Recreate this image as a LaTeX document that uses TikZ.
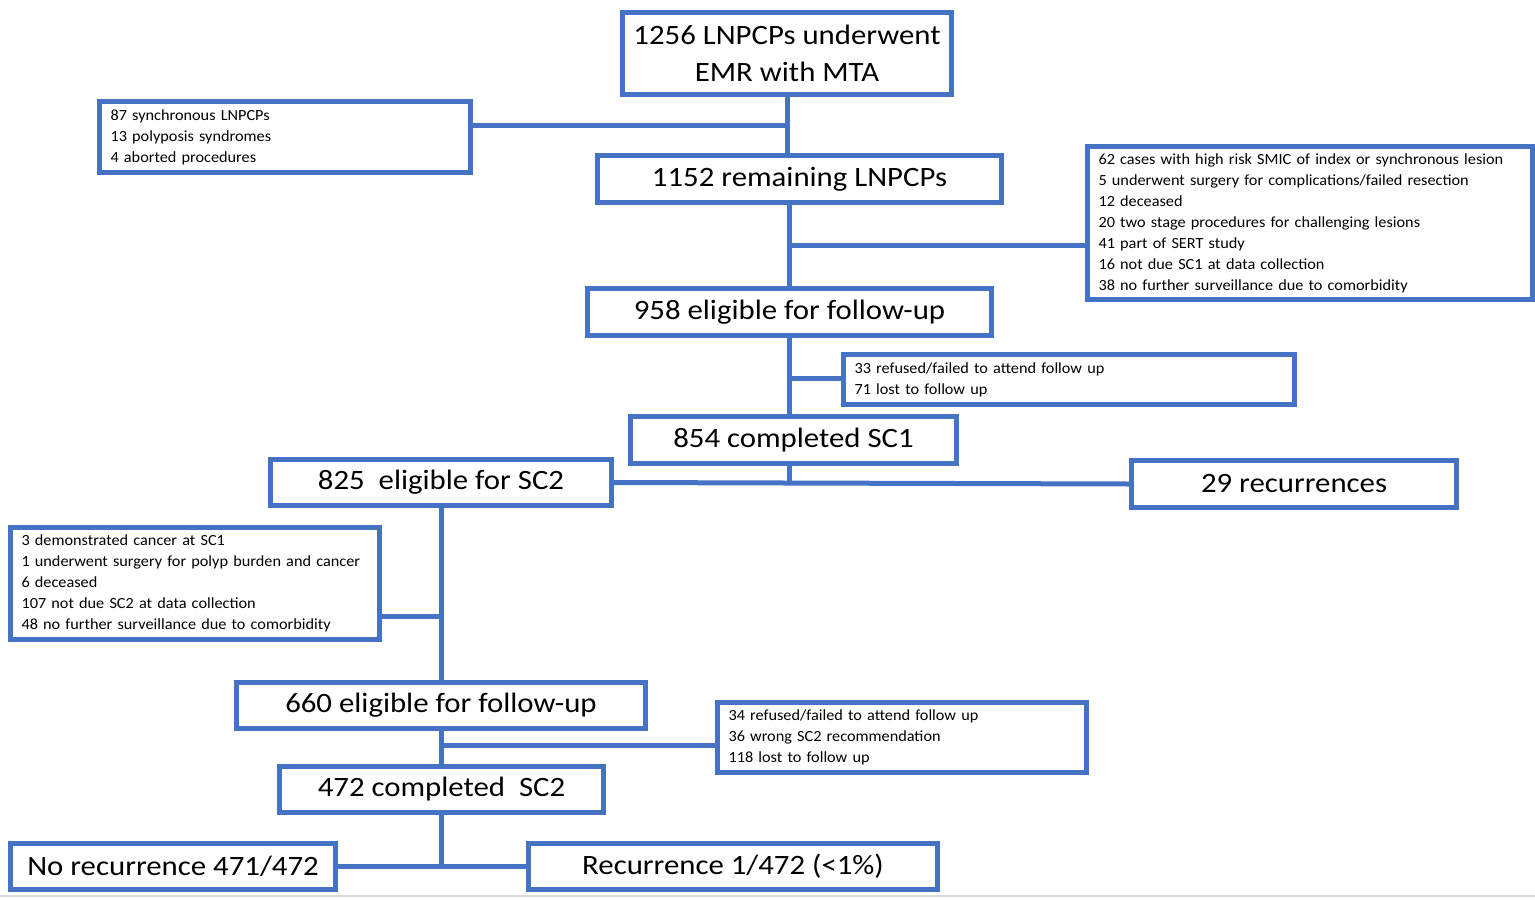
\documentclass[tikz,border=0pt]{standalone}
\usepackage{fontspec}
\setmainfont{Carlito}[FakeStretch=1.1]
\newfontfamily\notefont{Carlito}[FakeStretch=1.05]
\definecolor{boxblue}{HTML}{4472C4}
\tikzset{
  flow/.style={draw=boxblue, line width=5pt, rectangle, inner sep=0pt, align=center,
    font=\fontsize{28}{37}\selectfont},
  note/.style={draw=boxblue, line width=5pt, rectangle, inner xsep=11pt, inner ysep=0pt,
    align=left, font=\notefont\fontsize{15.5}{21}\selectfont},
  link/.style={draw=boxblue, line width=5pt}
}
\begin{document}
\begin{tikzpicture}[x=1pt, y=-1pt]
\useasboundingbox (0,0) rectangle (1535,900);
\draw[black!15, line width=1.5pt] (0,896) -- (1535,896);

% main column, first stage
\node[flow, minimum width=329pt, minimum height=82pt] (b1) at (787,53.5)
  {1256 LNPCPs underwent\\EMR with MTA};
\node[note, minimum width=371pt, minimum height=71pt, text width=349pt] (A) at (285,137)
  {87 synchronous LNPCPs\\13 polyposis syndromes\\4 aborted procedures};
\node[flow, minimum width=404pt, minimum height=47pt] (b2) at (799.5,179)
  {1152 remaining LNPCPs};
\node[note, minimum width=445pt, minimum height=153pt, text width=423pt] (B) at (1310,223)
  {62 cases with high risk SMIC of index or synchronous lesion\\
   5 underwent surgery for complications/failed resection\\
   12 deceased\\
   20 two stage procedures for challenging lesions\\
   41 part of SERT study\\
   16 not due SC1 at data collection\\
   38 no further surveillance due to comorbidity};
\node[flow, minimum width=404pt, minimum height=47pt] (b3) at (789.5,312)
  {958 eligible for follow-up};
\node[note, minimum width=451pt, minimum height=50pt, text width=429pt] (C) at (1069,379.5)
  {33 refused/failed to attend follow up\\71 lost to follow up};
\node[flow, minimum width=326pt, minimum height=47pt] (b4) at (793.5,440)
  {854 completed SC1};
\node[flow, minimum width=341pt, minimum height=46pt] (b5) at (441,482.5)
  {825\ \ eligible for SC2};
\node[flow, minimum width=325pt, minimum height=47pt] (b6) at (1294,484)
  {29 recurrences};

% second stage
\node[note, minimum width=369pt, minimum height=112pt, text width=347pt] (D) at (195,583.5)
  {3 demonstrated cancer at SC1\\
   1 underwent surgery for polyp burden and cancer\\
   6 deceased\\
   107 not due SC2 at data collection\\
   48 no further surveillance due to comorbidity};
\node[flow, minimum width=409pt, minimum height=46pt] (b7) at (441,705.5)
  {660 eligible for follow-up};
\node[note, minimum width=369pt, minimum height=70pt, text width=347pt] (E) at (902,737.5)
  {34 refused/failed to attend follow up\\36 wrong SC2 recommendation\\118 lost to follow up};
\node[flow, minimum width=324pt, minimum height=46pt] (b8) at (441.5,789.5)
  {472 completed\ \ SC2};
\node[flow, minimum width=325pt, minimum height=46pt] (b9) at (173,866.5)
  {No recurrence 471/472};
\node[flow, minimum width=409pt, minimum height=46pt] (b10) at (733,866.5)
  {Recurrence 1/472 (<1\%)};

% connectors
\draw[link] (b1.south) -- (b1.south |- b2.north);
\draw[link] ([yshift=12pt]A.east) -- ([yshift=12pt]A.east -| b1.south);
\draw[link] (b3.north |- b2.south) -- (b3.north);
\draw[link] ([yshift=-22pt]B.west) -- ([yshift=-22pt]B.west -| b3.north);
\draw[link] (b3.south) -- (b3.south |- b4.north);
\draw[link] ([yshift=1pt]C.west) -- ([yshift=1pt]C.west -| b3.south);
\draw[link] (b3.south |- b4.south) -- (b3.south |- b5.east);
\draw[link] (b5.east) -- (b6.west);
\draw[link] (b5.south) -- (b7.north);
\draw[link] ([yshift=-32.5pt]D.east) -- ([yshift=-32.5pt]D.east -| b5.south);
\draw[link] (b7.south) -- (b7.south |- b8.north);
\draw[link] ([yshift=-7.5pt]E.west) -- ([yshift=-7.5pt]E.west -| b7.south);
\draw[link] (b8.south) -- (b8.south |- b9.east);
\draw[link] (b9.east) -- (b10.west);
\end{tikzpicture}
\end{document}
